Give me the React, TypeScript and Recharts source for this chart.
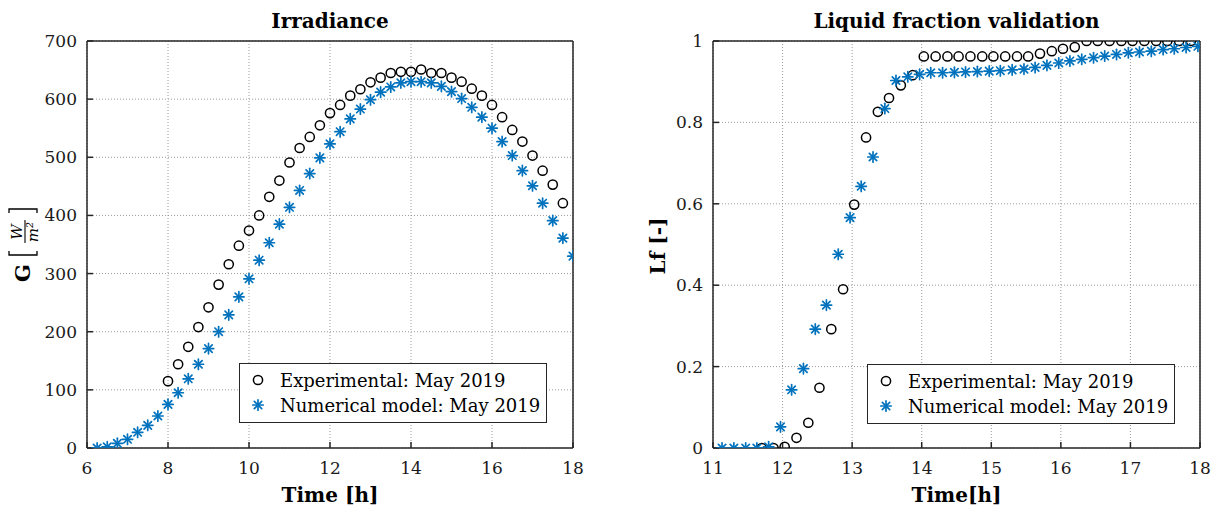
import { ScatterChart, Scatter, XAxis, YAxis, CartesianGrid, Legend, Label } from 'recharts';

const FONT = "'DejaVu Serif', serif";
const AXIS = '#262626';
const BLUE = '#0072BD';

// Irradiance, experimental (every 15 min)
const irrExpTime = [
  8, 8.25, 8.5, 8.75, 9, 9.25, 9.5, 9.75, 10, 10.25, 10.5, 10.75, 11, 11.25, 11.5, 11.75,
  12, 12.25, 12.5, 12.75, 13, 13.25, 13.5, 13.75, 14, 14.25, 14.5, 14.75, 15, 15.25, 15.5, 15.75,
  16, 16.25, 16.5, 16.75, 17, 17.25, 17.5, 17.75,
];
const irrExpG = [
  115, 144, 174, 208, 242, 281, 316, 348, 374, 400, 432, 460, 491, 516, 535, 555,
  576, 590, 606, 617, 629, 637, 645, 647, 647, 651, 645, 645, 637, 630, 618, 606,
  590, 569, 547, 527, 503, 477, 453, 421,
];

// Irradiance, numerical model
const irrNumTime = [
  6.25, 6.5, 6.75, 7, 7.25, 7.5, 7.75, 8, 8.25, 8.5, 8.75, 9, 9.25, 9.5, 9.75, 10,
  10.25, 10.5, 10.75, 11, 11.25, 11.5, 11.75, 12, 12.25, 12.5, 12.75, 13, 13.25, 13.5, 13.75, 14,
  14.25, 14.5, 14.75, 15, 15.25, 15.5, 15.75, 16, 16.25, 16.5, 16.75, 17, 17.25, 17.5, 17.75, 18,
];
const irrNumG = [
  0, 2, 8, 15, 27, 39, 55, 75, 95, 119, 144, 171, 200, 229, 260, 291,
  323, 353, 385, 414, 443, 472, 499, 523, 544, 566, 583, 599, 612, 621, 628, 630,
  630, 628, 622, 613, 601, 586, 569, 550, 527, 503, 477, 451, 421, 391, 361, 330,
];

// Liquid fraction, experimental (every 10 min)
const lfExpTime = [
  11.7, 11.87, 12.03, 12.2, 12.37, 12.53, 12.7, 12.87, 13.03, 13.2, 13.37, 13.53, 13.7, 13.87,
  14.03, 14.2, 14.37, 14.53, 14.7, 14.87, 15.03, 15.2, 15.37, 15.53, 15.7, 15.87, 16.03, 16.2,
  16.37, 16.53, 16.7, 16.87, 17.03, 17.2, 17.37, 17.53, 17.7, 17.87,
];
const lfExpVal = [
  0, 0, 0.003, 0.025, 0.062, 0.148, 0.292, 0.39, 0.598, 0.763, 0.826, 0.86, 0.891, 0.916,
  0.962, 0.962, 0.962, 0.962, 0.962, 0.962, 0.962, 0.962, 0.962, 0.962, 0.969, 0.975, 0.981, 0.985,
  1, 1, 1, 1, 1, 1, 1, 1, 1, 1,
];

// Liquid fraction, numerical model
const lfNumTime = [
  11.13, 11.3, 11.47, 11.63, 11.8, 11.97, 12.13, 12.3, 12.47, 12.63, 12.8, 12.97, 13.13, 13.3,
  13.47, 13.63, 13.8, 13.97, 14.13, 14.3, 14.47, 14.63, 14.8, 14.97, 15.13, 15.3, 15.47, 15.63,
  15.8, 15.97, 16.13, 16.3, 16.47, 16.63, 16.8, 16.97, 17.13, 17.3, 17.47, 17.63, 17.8, 17.97,
];
const lfNumVal = [
  0, 0, 0, 0, 0.003, 0.052, 0.143, 0.195, 0.292, 0.351, 0.476, 0.566, 0.643, 0.715,
  0.834, 0.903, 0.912, 0.918, 0.922, 0.922, 0.923, 0.924, 0.925, 0.926, 0.927, 0.929, 0.931, 0.935,
  0.94, 0.946, 0.951, 0.955, 0.959, 0.963, 0.967, 0.971, 0.973, 0.975, 0.979, 0.981, 0.984, 0.987,
];

const irrXTicks = [6, 8, 10, 12, 14, 16, 18];
const irrYTicks = [0, 100, 200, 300, 400, 500, 600, 700];
const lfXTicks = [11, 12, 13, 14, 15, 16, 17, 18];
const lfYTicks = [0, 0.2, 0.4, 0.6, 0.8, 1];

const toPoints = (xs: number[], ys: number[]) => xs.map((x, i) => ({ x, y: ys[i] }));

const Ring = (p: any) => (
  <circle cx={p.cx} cy={p.cy} r={4.6} fill="none" stroke="#000" strokeWidth={1.5} />
);

const Aster = (p: any) => {
  const { cx, cy } = p;
  const a = 5.2;
  const d = 3.7;
  return (
    <g stroke={BLUE} strokeWidth={1.7} strokeLinecap="round">
      <line x1={cx - a} y1={cy} x2={cx + a} y2={cy} />
      <line x1={cx} y1={cy - a} x2={cx} y2={cy + a} />
      <line x1={cx - d} y1={cy - d} x2={cx + d} y2={cy + d} />
      <line x1={cx - d} y1={cy + d} x2={cx + d} y2={cy - d} />
    </g>
  );
};

const LegendBox = () => (
  <div
    style={{
      width: 308, height: 60, border: `1px solid ${AXIS}`, background: '#fff', boxSizing: 'border-box',
      fontFamily: FONT, fontSize: 18, color: '#000', position: 'relative',
    }}
  >
    <div style={{ position: 'absolute', left: 0, top: 3, height: 26, display: 'flex', alignItems: 'center' }}>
      <svg width={40} height={26}><Ring cx={18} cy={13} /></svg>
      <span>Experimental: May 2019</span>
    </div>
    <div style={{ position: 'absolute', left: 0, top: 28, height: 26, display: 'flex', alignItems: 'center' }}>
      <svg width={40} height={26}><Aster cx={18} cy={13} /></svg>
      <span>Numerical model: May 2019</span>
    </div>
  </div>
);

// G [W/m^2] written with a stacked fraction, rotated
const GLabel = ({ cx, cy }: { cx: number; cy: number }) => (
  <g transform={`translate(${cx},${cy}) rotate(-90)`} fontFamily={FONT} fill="#000">
    <text x={-38} y={5} fontSize={21} fontWeight="bold">G</text>
    <path d="M -7 -16 L -11 -16 L -11 12 L -7 12" fill="none" stroke="#000" strokeWidth={1.3} />
    <text x={12} y={-3} fontSize={15} fontStyle="italic" textAnchor="middle">W</text>
    <line x1={1} y1={0} x2={24} y2={0} stroke="#000" strokeWidth={1.1} />
    <text x={12} y={13} fontSize={15} fontStyle="italic" textAnchor="middle">m²</text>
    <path d="M 31 -16 L 35 -16 L 35 12 L 31 12" fill="none" stroke="#000" strokeWidth={1.3} />
  </g>
);

const RotLabel = ({ cx, cy, text }: { cx: number; cy: number; text: string }) => (
  <text
    transform={`translate(${cx},${cy}) rotate(-90)`}
    textAnchor="middle"
    dominantBaseline="central"
    fontFamily={FONT}
    fontSize={20}
    fontWeight="bold"
    fill="#000"
  >
    {text}
  </text>
);

interface PanelProps {
  title: string;
  xLabel: string;
  yLabel: any;
  exp: { x: number; y: number }[];
  num: { x: number; y: number }[];
  xDomain: [number, number];
  yDomain: [number, number];
  xTicks: number[];
  yTicks: number[];
  margin: { top: number; right: number; bottom: number; left: number };
  legendPos: { left: number; top: number };
}

const tickStyle = { fill: '#1a1a1a', fontSize: 17, fontFamily: FONT };
const lineStyle = { stroke: AXIS, strokeWidth: 1.5 };

// axes are 1px thick (a 0px axis is not drawn), margins account for that
const Panel = ({ title, xLabel, yLabel, exp, num, xDomain, yDomain, xTicks, yTicks, margin, legendPos }: PanelProps) => (
  <ScatterChart width={608} height={512} margin={margin}>
    <CartesianGrid stroke="#9a9a9a" strokeDasharray="1 2" />
    <XAxis
      dataKey="x" type="number" domain={xDomain} ticks={xTicks} interval={0} height={1}
      allowDataOverflow tick={tickStyle} tickSize={-6} tickMargin={20}
      axisLine={lineStyle} tickLine={lineStyle}
    >
      <Label value={xLabel} position="bottom" offset={39} fontFamily={FONT} fontSize={20} fontWeight="bold" fill="#000" />
    </XAxis>
    <XAxis
      xAxisId="top" orientation="top" type="number" domain={xDomain} ticks={xTicks} interval={0} height={1}
      allowDataOverflow tick={false} tickSize={-6} axisLine={lineStyle} tickLine={lineStyle}
    >
      <Label value={title} position="top" offset={12} fontFamily={FONT} fontSize={20} fontWeight="bold" fill="#000" />
    </XAxis>
    <YAxis
      dataKey="y" type="number" domain={yDomain} ticks={yTicks} interval={0} width={1}
      allowDataOverflow tick={tickStyle} tickSize={-6} tickMargin={16}
      axisLine={lineStyle} tickLine={lineStyle}
    >
      <Label content={() => yLabel} />
    </YAxis>
    <YAxis
      yAxisId="right" orientation="right" type="number" domain={yDomain} ticks={yTicks} interval={0} width={1}
      allowDataOverflow tick={false} tickSize={-6} axisLine={lineStyle} tickLine={lineStyle}
    />
    <Legend
      verticalAlign="middle" align="center" layout="horizontal"
      wrapperStyle={{ left: legendPos.left, top: legendPos.top, width: 308, height: 60 }}
      content={() => <LegendBox />}
    />
    <Scatter name="Experimental: May 2019" data={exp} shape={Ring} isAnimationActive={false} />
    <Scatter name="Numerical model: May 2019" data={num} shape={Aster} isAnimationActive={false} />
  </ScatterChart>
);

export default function App() {
  return (
    <div style={{ position: 'absolute', left: 0, top: 0, width: 1216, height: 512, background: '#fff', display: 'flex' }}>
      <Panel
        title="Irradiance"
        xLabel="Time [h]"
        yLabel={<GLabel cx={25} cy={244} />}
        exp={toPoints(irrExpTime, irrExpG)}
        num={toPoints(irrNumTime, irrNumG)}
        xDomain={[6, 18]}
        yDomain={[0, 700]}
        xTicks={irrXTicks}
        yTicks={irrYTicks}
        margin={{ top: 40, right: 34, bottom: 63, left: 86 }}
        legendPos={{ left: 239, top: 363 }}
      />
      <Panel
        title="Liquid fraction validation"
        xLabel="Time[h]"
        yLabel={<RotLabel cx={50} cy={246} text="Lf [-]" />}
        exp={toPoints(lfExpTime, lfExpVal)}
        num={toPoints(lfNumTime, lfNumVal)}
        xDomain={[11, 18]}
        yDomain={[0, 1]}
        xTicks={lfXTicks}
        yTicks={lfYTicks}
        margin={{ top: 40, right: 15, bottom: 63, left: 104 }}
        legendPos={{ left: 259, top: 364 }}
      />
    </div>
  );
}
